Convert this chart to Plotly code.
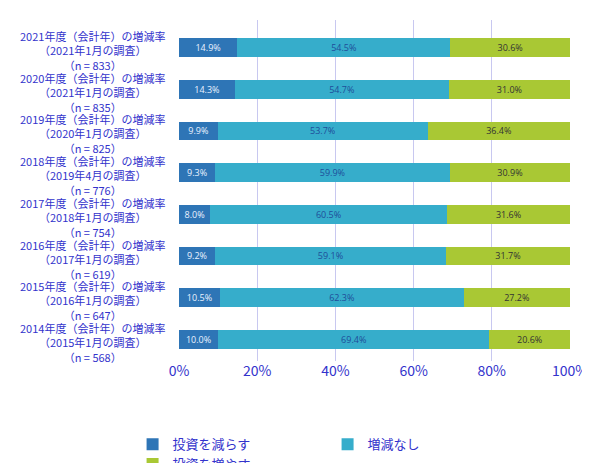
import plotly.graph_objects as go

categories = [
    "2021年度（会計年）の増減率<br>（2021年1月の調査）<br>（n = 833）",
    "2020年度（会計年）の増減率<br>（2021年1月の調査）<br>（n = 835）",
    "2019年度（会計年）の増減率<br>（2020年1月の調査）<br>（n = 825）",
    "2018年度（会計年）の増減率<br>（2019年4月の調査）<br>（n = 776）",
    "2017年度（会計年）の増減率<br>（2018年1月の調査）<br>（n = 754）",
    "2016年度（会計年）の増減率<br>（2017年1月の調査）<br>（n = 619）",
    "2015年度（会計年）の増減率<br>（2016年1月の調査）<br>（n = 647）",
    "2014年度（会計年）の増減率<br>（2015年1月の調査）<br>（n = 568）",
]
decrease = [14.9, 14.3, 9.9, 9.3, 8.0, 9.2, 10.5, 10.0]
nochange = [54.5, 54.7, 53.7, 59.9, 60.5, 59.1, 62.3, 69.4]
increase = [30.6, 31.0, 36.4, 30.9, 31.6, 31.7, 27.2, 20.6]
series_names = ["投資を減らす", "増減なし", "投資を増やす"]
colors = ["#2E75B6", "#36ADCB", "#A9C834"]
text_colors = ["#EAF2FF", "#1F4E9A", "#333333"]

fig = go.Figure()
for name, vals, c, tc in zip(series_names, [decrease, nochange, increase], colors, text_colors):
    fig.add_trace(go.Bar(
        y=categories, x=vals, name=name, orientation="h",
        marker=dict(color=c, line=dict(width=0)),
        text=[f"{v:.1f}%" for v in vals], textposition="inside",
        insidetextanchor="middle", textangle=0,
        textfont=dict(color=tc, size=12, family="Open Sans"),
    ))

for cat in categories:
    fig.add_annotation(x=-0.22, xref="paper", y=cat, yref="y", yshift=-3,
                       text=cat, showarrow=False, align="center",
                       xanchor="center", yanchor="middle",
                       font=dict(size=11, color="#3333CC", family="Noto Sans CJK JP"))

fig.update_layout(
    barmode="stack", bargap=0.55,
    width=590, height=463,
    margin=dict(l=171, r=28, t=12, b=110, autoexpand=False),
    plot_bgcolor="white", paper_bgcolor="white",
    font=dict(family="Noto Sans CJK JP", color="#3333CC"),
    legend=dict(orientation="h", x=0.38, xanchor="center", y=-0.2, yanchor="top",
                font=dict(size=13, color="#3333CC"), traceorder="normal",
                itemwidth=30, entrywidth=150),
    xaxis=dict(range=[0, 100], tickvals=[0, 20, 40, 60, 80, 100],
               ticktext=["0%", "20%", "40%", "60%", "80%", "100%"],
               tickfont=dict(size=14, color="#3333CC"),
               showgrid=True, gridcolor="#C8C8F0", zeroline=False,
               showline=False, automargin=False),
    yaxis=dict(autorange="reversed", showticklabels=False,
               showgrid=False, ticks="", automargin=False),
    uniformtext=dict(mode="show", minsize=8),
)
fig.write_html("out.html")
